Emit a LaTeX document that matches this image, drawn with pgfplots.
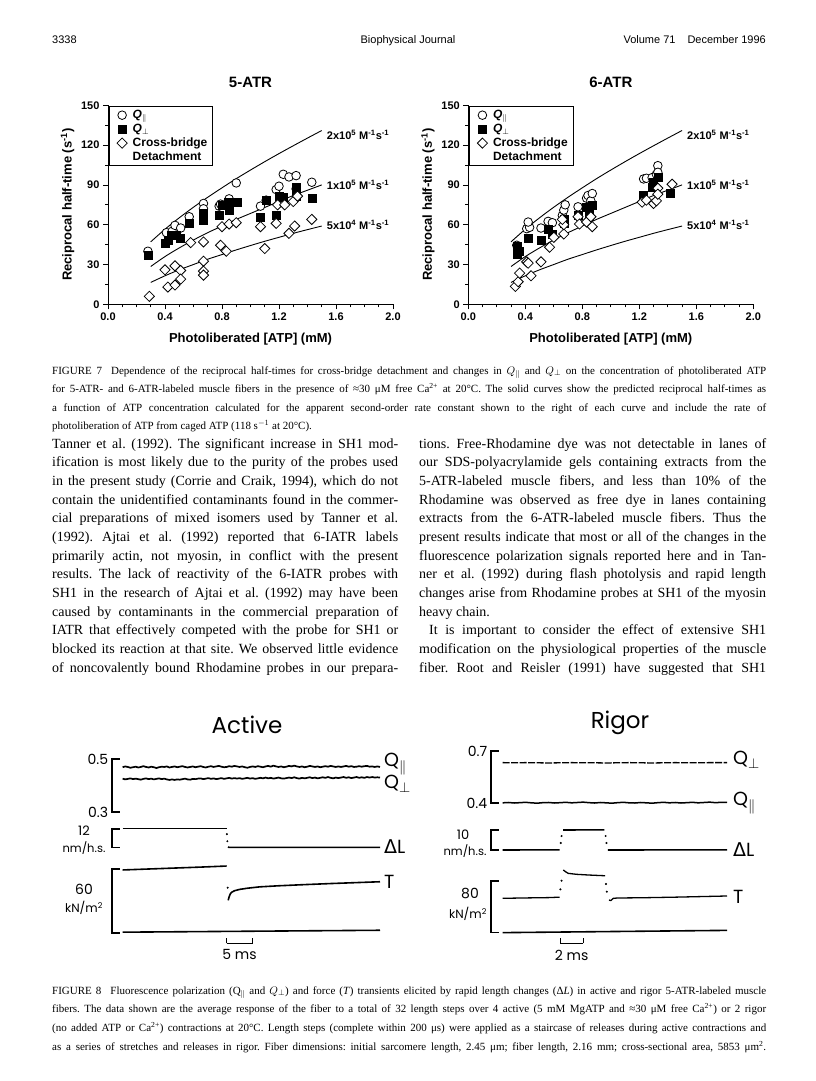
\documentclass[border=0pt]{standalone}
\usepackage{fontspec}
\usepackage{pgfplots}
\pgfplotsset{compat=1.18}
\setmainfont{Liberation Serif}
\newfontfamily\arial{Liberation Sans}
\newfontfamily\gothic{Poppins}
\newfontfamily\dejavu{DejaVu Sans}
\frenchspacing
\newcommand\jl[2]{\hbox to #1{\spaceskip=.25em plus 1fil minus .1em\relax\xspaceskip=\spaceskip #2}}
\newcommand\bodyfont{\fontsize{14}{16}\selectfont}
\newcommand\capfont{\fontsize{11}{13}\selectfont}
\newcommand\figfont{\arial\bfseries}
\newcommand\gfont[1]{\gothic\fontsize{#1}{#1}\selectfont}

\pgfplotsset{
  fig7/.style={
    scale only axis, width=285pt, height=199pt, anchor=south west,
    xmin=0, xmax=2, ymin=0, ymax=150, clip=false,
    axis x line*=bottom, axis y line*=left,
    axis line style={line width=0.9pt},
    tick align=outside,
    xtick={0,0.4,0.8,1.2,1.6,2}, xticklabels={0.0,0.4,0.8,1.2,1.6,2.0},
    ytick={0,30,60,90,120,150}, yticklabels={0,30,60,90,120,150},
    minor x tick num=3, minor y tick num=1,
    major tick length=5pt, minor tick length=3pt,
    every tick/.style={black, line width=0.8pt},
    ticklabel style={font=\figfont\fontsize{11}{12}\selectfont},
    label style={font=\figfont\fontsize{13}{14}\selectfont},
    title style={font=\figfont\fontsize{15}{16}\selectfont, yshift=8pt},
    xlabel={Photoliberated [ATP] (mM)},
    ylabel={Reciprocal half-time (s\textsuperscript{-1})},
    xlabel style={yshift=-6pt},
    legend cell align=left,
    legend style={at={(0.004,0.995)}, anchor=north west, draw=black, line width=0.9pt,
      font=\figfont\fontsize{12}{13}\selectfont, row sep=1pt,
      inner xsep=4pt, inner ysep=2pt, column sep=4pt, nodes={inner sep=1.5pt}},
  },
  circ/.style={only marks, mark=*, mark size=4.3pt, mark options={fill=white, draw=black, line width=0.8pt}},
  sq/.style={only marks, mark=square*, mark size=4pt, mark options={fill=black, draw=black}},
  dia/.style={only marks, mark=square*, mark size=3.6pt, mark options={rotate=45, fill=white, draw=black, line width=0.8pt}},
  curve/.style={black, line width=0.9pt, smooth, no marks},
  bracket/.style={
    scale only axis, clip=false, anchor=south west,
    axis x line=none, axis y line*=left,
    y axis line style={line width=1.6pt, line cap=rect},
    tick align=inside, major tick length=7pt,
    every tick/.style={black, line width=1.6pt, line cap=rect},
    xtick=\empty,
    yticklabel style={font=\gfont{14}},
  },
  sbar/.style={scale only axis, anchor=south west, height=5pt, ymin=0, ymax=1,
    axis x line*=bottom, axis y line=none, tick align=inside, major tick length=5pt,
    every tick/.style={black, line width=1.4pt}, x axis line style={line width=1.4pt},
    ytick=\empty, xticklabels={},
    xlabel style={font=\gfont{14}, at={(axis description cs:0.5,0)}, anchor=north, yshift=-3pt}},
  tr/.style={black, line width=1.6pt, line join=round},
  qtr/.style={black, line width=1.7pt, line join=round},
  dotm/.style={only marks, mark=*, mark size=0.8pt, black},
}

\begin{document}
\begin{tikzpicture}
\fill[white] (0,0) rectangle (816pt,-1081pt);
\useasboundingbox (0,0) rectangle (816pt,-1081pt);

% ---------- header ----------
\node[anchor=base west, inner sep=0pt, font=\arial\fontsize{11}{13}\selectfont] at (52pt,-44pt) {3338};
\node[anchor=base, inner sep=0pt, font=\arial\fontsize{11}{13}\selectfont] at (408pt,-44pt) {Biophysical Journal};
\node[anchor=base east, inner sep=0pt, font=\arial\fontsize{11}{13}\selectfont] at (766pt,-44pt) {Volume 71\hspace{12pt}December 1996};

% ---------- Figure 7, 5-ATR ----------
\begin{axis}[fig7, at={(108pt,-304.3pt)}, title={5-ATR}]
\addplot[circ] coordinates {(0.28,40) (0.41,54) (0.45,55) (0.47,59.5) (0.51,57.5) (0.57,66) (0.67,76) (0.67,72) (0.78,74) (0.79,75.5) (0.84,77) (0.85,79.5) (0.90,91.5) (1.07,74) (1.11,78.5) (1.18,86.5) (1.20,89) (1.23,98) (1.27,96) (1.32,97) (1.32,87) (1.43,92)};
\addlegendentry{\textit{Q}$_{\parallel}$}
\addplot[sq] coordinates {(0.28,37) (0.40,46) (0.42,48) (0.44,52) (0.48,52) (0.51,50) (0.57,61) (0.67,63.5) (0.67,68.5) (0.78,67) (0.80,74.5) (0.84,77) (0.85,71) (0.91,77) (1.07,66) (1.11,78.5) (1.18,67) (1.20,81.5) (1.23,81) (1.32,81.5) (1.32,88) (1.43,80)};
\addlegendentry{\textit{Q}$_{\perp}$}
\addplot[dia] coordinates {(0.29,6) (0.40,26) (0.42,13) (0.47,29) (0.47,14.5) (0.51,25.5) (0.51,19) (0.58,46.5) (0.67,47) (0.67,32.5) (0.67,25) (0.67,22) (0.79,44.5) (0.80,58.5) (0.83,40) (0.85,60.5) (0.90,61.5) (1.07,58.5) (1.10,42) (1.18,61) (1.19,75) (1.24,75) (1.27,53.5) (1.31,59) (1.30,77.5) (1.33,81.5) (1.43,64)};
\addlegendentry{Cross-bridge}
\addlegendimage{empty legend}
\addlegendentry{Detachment}
\addplot[curve, forget plot] coordinates {(0.3,47.1) (0.4,56.6) (0.5,65.2) (0.6,73.2) (0.7,80.7) (0.8,87.8) (0.9,94.7) (1.0,101.2) (1.1,107.5) (1.2,113.6) (1.3,119.5) (1.4,125.3) (1.5,131)};
\addplot[curve, forget plot] coordinates {(0.3,28.5) (0.4,36) (0.5,42.5) (0.6,48.5) (0.7,54) (0.8,59) (0.9,64) (1.0,68.5) (1.1,73) (1.2,77.5) (1.3,82) (1.4,86) (1.5,90)};
\addplot[curve, forget plot] coordinates {(0.3,16.5) (0.4,21.5) (0.5,26) (0.6,30) (0.7,34) (0.8,37.5) (0.9,41) (1.0,44.3) (1.1,47.5) (1.2,50.5) (1.3,53.5) (1.4,56.3) (1.5,59)};
\node[anchor=west, inner sep=0pt, font=\figfont\fontsize{11}{12}\selectfont] at (axis cs:1.535,128) {2x10\textsuperscript{5} M\textsuperscript{-1}s\textsuperscript{-1}};
\node[anchor=west, inner sep=0pt, font=\figfont\fontsize{11}{12}\selectfont] at (axis cs:1.535,90) {1x10\textsuperscript{5} M\textsuperscript{-1}s\textsuperscript{-1}};
\node[anchor=west, inner sep=0pt, font=\figfont\fontsize{11}{12}\selectfont] at (axis cs:1.535,60) {5x10\textsuperscript{4} M\textsuperscript{-1}s\textsuperscript{-1}};
\end{axis}

% ---------- Figure 7, 6-ATR ----------
\begin{axis}[fig7, at={(468.3pt,-304.3pt)}, title={6-ATR}]
\addplot[circ] coordinates {(0.34,44.5) (0.35,41) (0.41,57) (0.43,58) (0.42,62) (0.51,57.5) (0.56,62.5) (0.59,61.5) (0.66,67) (0.67,71) (0.68,75) (0.77,73.5) (0.83,80) (0.84,82) (0.86,78) (0.87,83.5) (1.23,94.5) (1.25,95) (1.29,95.5) (1.32,98) (1.33,104.5) (1.33,99.5)};
\addlegendentry{\textit{Q}$_{\parallel}$}
\addplot[sq] coordinates {(0.34,44) (0.34,41) (0.34,38) (0.36,40) (0.42,49.5) (0.51,48.5) (0.56,56.5) (0.59,53) (0.67,61) (0.67,64) (0.77,67) (0.83,73) (0.85,70) (0.87,75) (0.85,66.5) (1.23,82) (1.29,88.5) (1.30,92) (1.33,95.5) (1.42,84)};
\addlegendentry{\textit{Q}$_{\perp}$}
\addplot[dia] coordinates {(0.33,13.5) (0.35,17) (0.36,23.5) (0.41,32) (0.42,31) (0.44,21.5) (0.51,32) (0.57,43) (0.60,50.5) (0.67,53) (0.67,60) (0.66,64) (0.77,66) (0.78,60.5) (0.83,62) (0.87,58.5) (0.86,66) (1.22,77) (1.25,78.5) (1.30,76) (1.32,78) (1.33,87.5) (1.33,83) (1.43,90.5)};
\addlegendentry{Cross-bridge}
\addlegendimage{empty legend}
\addlegendentry{Detachment}
\addplot[curve, forget plot] coordinates {(0.3,47.1) (0.4,56.6) (0.5,65.2) (0.6,73.2) (0.7,80.7) (0.8,87.8) (0.9,94.7) (1.0,101.2) (1.1,107.5) (1.2,113.6) (1.3,119.5) (1.4,125.3) (1.5,131)};
\addplot[curve, forget plot] coordinates {(0.3,28.5) (0.4,36) (0.5,42.5) (0.6,48.5) (0.7,54) (0.8,59) (0.9,64) (1.0,68.5) (1.1,73) (1.2,77.5) (1.3,82) (1.4,86) (1.5,90)};
\addplot[curve, forget plot] coordinates {(0.3,16.5) (0.4,21.5) (0.5,26) (0.6,30) (0.7,34) (0.8,37.5) (0.9,41) (1.0,44.3) (1.1,47.5) (1.2,50.5) (1.3,53.5) (1.4,56.3) (1.5,59)};
\node[anchor=west, inner sep=0pt, font=\figfont\fontsize{11}{12}\selectfont] at (axis cs:1.535,128) {2x10\textsuperscript{5} M\textsuperscript{-1}s\textsuperscript{-1}};
\node[anchor=west, inner sep=0pt, font=\figfont\fontsize{11}{12}\selectfont] at (axis cs:1.535,90) {1x10\textsuperscript{5} M\textsuperscript{-1}s\textsuperscript{-1}};
\node[anchor=west, inner sep=0pt, font=\figfont\fontsize{11}{12}\selectfont] at (axis cs:1.535,60) {5x10\textsuperscript{4} M\textsuperscript{-1}s\textsuperscript{-1}};
\end{axis}

% ---------- Figure 7 caption ----------
\begin{scope}[every node/.style={anchor=base west, inner sep=0pt, font=\capfont}]
\node at (52pt,-374pt) {\jl{714pt}{FIGURE 7\hspace{9pt}Dependence of the reciprocal half-times for cross-bridge detachment and changes in $Q_{\parallel}$ and $Q_{\perp}$ on the concentration of photoliberated ATP}};
\node at (52pt,-392.5pt) {\jl{714pt}{for 5-ATR- and 6-ATR-labeled muscle fibers in the presence of ≈30 μM free Ca\textsuperscript{2+} at 20°C. The solid curves show the predicted reciprocal half-times as}};
\node at (52pt,-411pt) {\jl{714pt}{a function of ATP concentration calculated for the apparent second-order rate constant shown to the right of each curve and include the rate of}};
\node at (52pt,-429.5pt) {photoliberation of ATP from caged ATP (118 s$^{-1}$ at 20°C).};
\end{scope}

% ---------- body text ----------
\begin{scope}[every node/.style={anchor=base west, inner sep=0pt, font=\bodyfont}]
\node at (52pt,-448pt) {\jl{346pt}{Tanner et al. (1992). The significant increase in SH1 mod-}};
\node at (52pt,-466.67pt) {\jl{346pt}{ification is most likely due to the purity of the probes used}};
\node at (52pt,-485.33pt) {\jl{346pt}{in the present study (Corrie and Craik, 1994), which do not}};
\node at (52pt,-504pt) {\jl{346pt}{contain the unidentified contaminants found in the commer-}};
\node at (52pt,-522.67pt) {\jl{346pt}{cial preparations of mixed isomers used by Tanner et al.}};
\node at (52pt,-541.33pt) {\jl{346pt}{(1992). Ajtai et al. (1992) reported that 6-IATR labels}};
\node at (52pt,-560pt) {\jl{346pt}{primarily actin, not myosin, in conflict with the present}};
\node at (52pt,-578.67pt) {\jl{346pt}{results. The lack of reactivity of the 6-IATR probes with}};
\node at (52pt,-597.33pt) {\jl{346pt}{SH1 in the research of Ajtai et al. (1992) may have been}};
\node at (52pt,-616pt) {\jl{346pt}{caused by contaminants in the commercial preparation of}};
\node at (52pt,-634.67pt) {\jl{346pt}{IATR that effectively competed with the probe for SH1 or}};
\node at (52pt,-653.33pt) {\jl{346pt}{blocked its reaction at that site. We observed little evidence}};
\node at (52pt,-672pt) {\jl{346pt}{of noncovalently bound Rhodamine probes in our prepara-}};
\node at (419pt,-448pt) {\jl{347pt}{tions. Free-Rhodamine dye was not detectable in lanes of}};
\node at (419pt,-466.67pt) {\jl{347pt}{our SDS-polyacrylamide gels containing extracts from the}};
\node at (419pt,-485.33pt) {\jl{347pt}{5-ATR-labeled muscle fibers, and less than 10\% of the}};
\node at (419pt,-504pt) {\jl{347pt}{Rhodamine was observed as free dye in lanes containing}};
\node at (419pt,-522.67pt) {\jl{347pt}{extracts from the 6-ATR-labeled muscle fibers. Thus the}};
\node at (419pt,-541.33pt) {\jl{347pt}{present results indicate that most or all of the changes in the}};
\node at (419pt,-560pt) {\jl{347pt}{fluorescence polarization signals reported here and in Tan-}};
\node at (419pt,-578.67pt) {\jl{347pt}{ner et al. (1992) during flash photolysis and rapid length}};
\node at (419pt,-597.33pt) {\jl{347pt}{changes arise from Rhodamine probes at SH1 of the myosin}};
\node at (419pt,-616pt) {heavy chain.};
\node at (429pt,-634.67pt) {\jl{337pt}{It is important to consider the effect of extensive SH1}};
\node at (419pt,-653.33pt) {\jl{347pt}{modification on the physiological properties of the muscle}};
\node at (419pt,-672pt) {\jl{347pt}{fiber. Root and Reisler (1991) have suggested that SH1}};
\end{scope}

% ---------- Figure 8 : Active ----------
\node[font=\gfont{23}] at (247pt,-725pt) {Active};
\begin{axis}[bracket, at={(111.7pt,-812pt)}, width=268.3pt, height=53pt, xmin=-2.1, xmax=49.5, ymin=0.3, ymax=0.5, ytick={0.3,0.5}, yticklabels={0.3,0.5}]
\addplot[qtr] coordinates {(0,.469) (.5,.472) (1,.470) (1.5,.467) (2,.469) (2.5,.471) (3,.468) (3.5,.470) (4,.473) (4.5,.470) (5,.468) (5.5,.471) (6,.469) (6.5,.466) (7,.469) (7.5,.471) (8,.470) (8.5,.472) (9,.468) (9.5,.470) (10,.472) (10.5,.469) (11,.471) (11.5,.473) (12,.470) (12.5,.468) (13,.470) (13.5,.472) (14,.469) (14.5,.471) (15,.473) (15.5,.470) (16,.468) (16.5,.471) (17,.473) (17.5,.470) (18,.472) (18.5,.474) (19,.471) (19.5,.469) (20,.470) (20.5,.473) (21,.471) (21.5,.474) (22,.472) (22.5,.470) (23,.472) (23.5,.469) (24,.467) (24.5,.470) (25,.472) (25.5,.470) (26,.473) (26.5,.471) (27,.469) (27.5,.472) (28,.474) (28.5,.471) (29,.475) (29.5,.472) (30,.470) (30.5,.472) (31,.469) (31.5,.471) (32,.474) (32.5,.472) (33,.475) (33.5,.472) (34,.470) (34.5,.472) (35,.469) (35.5,.471) (36,.474) (36.5,.472) (37,.470) (37.5,.472) (38,.469) (38.5,.471) (39,.473) (39.5,.471) (40,.474) (40.5,.472) (41,.470) (41.5,.472) (42,.470) (42.5,.472) (43,.474) (43.5,.471) (44,.473) (44.5,.470) (45,.471) (45.5,.473) (46,.471) (46.5,.473) (47,.474) (47.5,.471) (48,.472) (48.5,.470) (49,.472) (49.5,.470)};
\addplot[qtr] coordinates {(0,.426) (.5,.423) (1,.425) (1.5,.427) (2,.424) (2.5,.426) (3,.424) (3.5,.422) (4,.425) (4.5,.427) (5,.424) (5.5,.426) (6,.423) (6.5,.425) (7,.427) (7.5,.424) (8,.426) (8.5,.423) (9,.421) (9.5,.423) (10,.421) (10.5,.423) (11,.422) (11.5,.424) (12,.426) (12.5,.423) (13,.422) (13.5,.425) (14,.424) (14.5,.426) (15,.427) (15.5,.424) (16,.426) (16.5,.428) (17,.425) (17.5,.427) (18,.424) (18.5,.426) (19,.428) (19.5,.425) (20,.427) (20.5,.429) (21,.426) (21.5,.428) (22,.426) (22.5,.428) (23,.425) (23.5,.427) (24,.429) (24.5,.426) (25,.428) (25.5,.425) (26,.427) (26.5,.429) (27,.427) (27.5,.430) (28,.427) (28.5,.429) (29,.426) (29.5,.428) (30,.430) (30.5,.427) (31,.426) (31.5,.428) (32,.430) (32.5,.428) (33,.431) (33.5,.428) (34,.426) (34.5,.429) (35,.427) (35.5,.429) (36,.431) (36.5,.428) (37,.430) (37.5,.427) (38,.429) (38.5,.431) (39,.429) (39.5,.432) (40,.429) (40.5,.427) (41,.430) (41.5,.428) (42,.430) (42.5,.432) (43,.429) (43.5,.431) (44,.428) (44.5,.430) (45,.432) (45.5,.429) (46,.431) (46.5,.429) (47,.432) (47.5,.430) (48,.432) (48.5,.430) (49,.431) (49.5,.430)};
\end{axis}
\begin{axis}[bracket, at={(111.7pt,-847.5pt)}, width=268.3pt, height=18.8pt, xmin=-2.1, xmax=49.5, ymin=0, ymax=12, ytick={0,12}, yticklabels={}]
\addplot[tr] coordinates {(0,12.1) (20,12.1)};
\addplot[dotm] coordinates {(20.05,8.5) (20.15,4)};
\addplot[tr] coordinates {(20.3,0.5) (20.4,0.1) (49.5,0.1)};
\end{axis}
\begin{axis}[bracket, at={(111.7pt,-932.7pt)}, width=268.3pt, height=63.7pt, xmin=-2.1, xmax=49.5, ymin=0, ymax=60, ytick={0,60}, yticklabels={}]
\addplot[tr] coordinates {(0,59.1) (5,60) (10,60.9) (15,61.8) (20,62.8)};
\addplot[dotm] coordinates {(20.2,42.4)};
\addplot[tr] coordinates {(20.3,30.5) (20.5,34) (20.7,36.5) (21,38.2) (21.5,39.5) (22.5,40.8) (24,41.9) (26.4,43.2) (30,44.2) (35,45.3) (40,46.3) (45,47.2) (49.5,48)};
\addplot[tr] coordinates {(0,0.5) (49.5,2.3)};
\end{axis}
\begin{axis}[sbar, at={(226.6pt,-943.3pt)}, width=26pt, xmin=20, xmax=25, xtick={20,25}, xlabel={5 ms}]
\end{axis}
\node[anchor=center, font=\gfont{13}] at (84pt,-831pt) {12};
\node[anchor=center, font=\gfont{11.5}] at (84pt,-848pt) {nm/h.s.};
\node[anchor=center, font=\gfont{14}] at (84pt,-889pt) {60};
\node[anchor=center, font=\gfont{12}] at (84pt,-908pt) {kN/m\textsuperscript{2}};
\node[anchor=west, font=\gfont{19}, inner sep=0pt] at (384pt,-764pt) {Q$_{\parallel}$};
\node[anchor=west, font=\gfont{19}, inner sep=0pt] at (384pt,-784pt) {Q$_{\perp}$};
\node[anchor=west, font=\gfont{19}, inner sep=0pt] at (384pt,-847pt) {{\dejavu Δ}L};
\node[anchor=west, font=\gfont{19}, inner sep=0pt] at (384pt,-882pt) {T};

% ---------- Figure 8 : Rigor ----------
\node[font=\gfont{23}] at (620pt,-723pt) {Rigor};
\begin{axis}[bracket, at={(490.7pt,-803pt)}, width=236.3pt, height=52pt, xmin=-1.04, xmax=19.5, ymin=0.4, ymax=0.7, ytick={0.4,0.7}, yticklabels={0.4,0.7}]
\addplot[black, line width=1.3pt, dash pattern=on 7pt off 1.5pt] coordinates {(0,.633) (1,.632) (2,.633) (3,.632) (4,.631) (5,.632) (6,.633) (7,.632) (8,.632) (9,.631) (10,.632) (11,.633) (12,.632) (13,.631) (14,.632) (15,.633) (16,.632) (17,.632) (18,.633) (19.5,.633)};
\addplot[qtr, line width=1.5pt] coordinates {(0,.401) (0.5,.403) (1,.400) (1.5,.402) (2,.404) (2.5,.401) (3,.399) (3.5,.402) (4,.403) (4.5,.400) (5,.402) (5.5,.404) (6,.401) (6.5,.403) (7,.405) (7.5,.402) (8,.400) (8.5,.403) (9,.401) (9.5,.399) (10,.402) (10.5,.404) (11,.401) (11.5,.400) (12,.403) (12.5,.401) (13,.399) (13.5,.402) (14,.404) (14.5,.401) (15,.403) (15.5,.400) (16,.402) (16.5,.404) (17,.401) (17.5,.403) (18,.405) (18.5,.402) (19,.404) (19.5,.403)};
\end{axis}
\begin{axis}[bracket, at={(490.7pt,-850pt)}, width=236.3pt, height=20pt, xmin=-1.04, xmax=19.5, ymin=0, ymax=10, ytick={0,10}, yticklabels={}]
\addplot[tr] coordinates {(0,0) (4.95,0.1)};
\addplot[dotm] coordinates {(5.05,3.5) (5.12,7)};
\addplot[tr] coordinates {(5.25,10) (8.85,10.1)};
\addplot[dotm] coordinates {(8.95,7) (9.02,3.5)};
\addplot[tr] coordinates {(9.15,0) (19.5,0.1)};
\end{axis}
\begin{axis}[bracket, at={(490.7pt,-932.3pt)}, width=236.3pt, height=51.6pt, xmin=-1.04, xmax=19.5, ymin=0, ymax=80, ytick={0,80}, yticklabels={}]
\addplot[tr, line width=1.3pt] coordinates {(0,52.7) (2,53.3) (4,53.8) (4.95,54.5)};
\addplot[dotm] coordinates {(5.02,66.6) (5.12,80)};
\addplot[tr, line width=1.3pt] coordinates {(5.27,96.6) (5.5,93.5) (5.7,91.4) (6.43,89.9) (7.5,88.8) (8.9,87.7)};
\addplot[dotm] coordinates {(8.98,75) (9.05,63)};
\addplot[tr, line width=1.3pt] coordinates {(9.24,50.1) (9.4,49.2) (9.62,52.7) (10,53.2) (12.2,53.6) (15,54.5) (19.5,56.3)};
\addplot[tr] coordinates {(0,-0.5) (19.5,3)};
\end{axis}
\begin{axis}[sbar, at={(560.2pt,-943.3pt)}, width=23pt, xmin=5, xmax=7, xtick={5,7}, xlabel={2 ms}]
\end{axis}
\node[anchor=center, font=\gfont{13}] at (463pt,-835pt) {10};
\node[anchor=center, font=\gfont{11.5}] at (465pt,-851pt) {nm/h.s.};
\node[anchor=center, font=\gfont{14}] at (470pt,-893pt) {80};
\node[anchor=center, font=\gfont{12}] at (468pt,-914pt) {kN/m\textsuperscript{2}};
\node[anchor=west, font=\gfont{19}, inner sep=0pt] at (733pt,-760pt) {Q$_{\perp}$};
\node[anchor=west, font=\gfont{19}, inner sep=0pt] at (733pt,-803pt) {Q$_{\parallel}$};
\node[anchor=west, font=\gfont{19}, inner sep=0pt] at (733pt,-850pt) {{\dejavu Δ}L};
\node[anchor=west, font=\gfont{19}, inner sep=0pt] at (733pt,-897pt) {T};

% ---------- Figure 8 caption ----------
\begin{scope}[every node/.style={anchor=base west, inner sep=0pt, font=\capfont}]
\node at (52pt,-994pt) {\jl{714pt}{FIGURE 8\hspace{9pt}Fluorescence polarization ($\mathrm{Q}_{\parallel}$ and $Q_{\perp}$) and force (\textit{T}) transients elicited by rapid length changes (Δ\textit{L}) in active and rigor 5-ATR-labeled muscle}};
\node at (52pt,-1012.7pt) {\jl{714pt}{fibers. The data shown are the average response of the fiber to a total of 32 length steps over 4 active (5 mM MgATP and ≈30 μM free Ca\textsuperscript{2+}) or 2 rigor}};
\node at (52pt,-1031.4pt) {\jl{714pt}{(no added ATP or Ca\textsuperscript{2+}) contractions at 20°C. Length steps (complete within 200 μs) were applied as a staircase of releases during active contractions and}};
\node at (52pt,-1050pt) {\jl{714pt}{as a series of stretches and releases in rigor. Fiber dimensions: initial sarcomere length, 2.45 μm; fiber length, 2.16 mm; cross-sectional area, 5853 μm\textsuperscript{2}.}};
\end{scope}
\end{tikzpicture}
\end{document}
